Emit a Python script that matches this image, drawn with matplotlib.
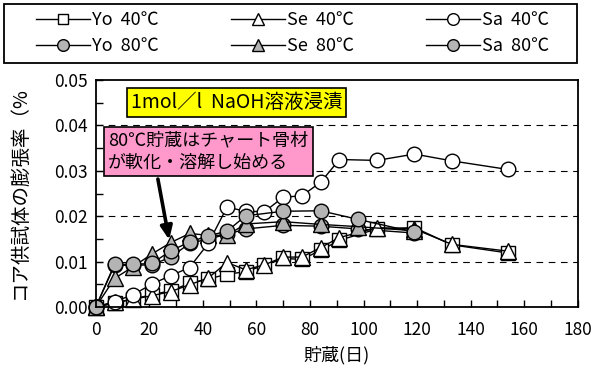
import matplotlib.pyplot as plt
from matplotlib.lines import Line2D
from matplotlib.patches import Rectangle

plt.rcParams['font.family'] = ['Noto Sans CJK JP', 'DejaVu Sans']

# 40℃ 貯蔵 (毎週測定)
days40 = [0, 7, 14, 21, 28, 35, 42, 49, 56, 63, 70, 77, 84, 91, 105, 119, 133, 154]
yo40 = [0, 0.0008, 0.0018, 0.0027, 0.0036, 0.0052, 0.0062, 0.0072, 0.0078, 0.0092,
        0.0107, 0.0105, 0.0125, 0.0147, 0.0172, 0.0175, 0.0137, 0.0119]
se40 = [0, 0.0010, 0.0017, 0.0025, 0.0034, 0.0049, 0.0064, 0.0098, 0.0082, 0.0093,
        0.0110, 0.0110, 0.0131, 0.0153, 0.0175, 0.0172, 0.0138, 0.0123]
sa40 = [0, 0.0012, 0.0027, 0.0051, 0.0069, 0.0087, 0.0140, 0.0220, 0.0211, 0.0210,
        0.0242, 0.0245, 0.0275, 0.0325, 0.0323, 0.0337, 0.0322, 0.0303]

# 80℃ 貯蔵
days80 = [0, 7, 14, 21, 28, 35, 42, 49, 56, 70, 84, 98, 119]
yo80 = [0, 0.0092, 0.0092, 0.0093, 0.0110, 0.0140, 0.0150, 0.0160, 0.0172, 0.0180,
        0.0178, 0.0172, 0.0163]
se80 = [0, 0.0063, 0.0089, 0.0117, 0.0142, 0.0162, 0.0158, 0.0158, 0.0183, 0.0188,
        0.0182, 0.0177, 0.0168]
sa80 = [0, 0.0094, 0.0094, 0.0096, 0.0124, 0.0143, 0.0157, 0.0167, 0.0201, 0.0211,
        0.0212, 0.0193, 0.0165]

gray = '#b4b4b4'

fig = plt.figure(figsize=(5.95, 3.76), dpi=100)
ax = fig.add_axes([0.161, 0.1835, 0.81, 0.6035])

kw = dict(color='black', linewidth=1.0, markeredgecolor='black', markeredgewidth=1.0)
series = [
    (days40, yo40, 's', 'white', 9.5, 'Yo  40℃'),
    (days80, yo80, 'o', gray, 10.5, 'Yo  80℃'),
    (days40, se40, '^', 'white', 11, 'Se  40℃'),
    (days80, se80, '^', gray, 11, 'Se  80℃'),
    (days40, sa40, 'o', 'white', 10.5, 'Sa  40℃'),
    (days80, sa80, 'o', gray, 10.5, 'Sa  80℃'),
]
handles = []
for x, y, m, fc, ms, lab in series:
    ax.plot(x, y, marker=m, markerfacecolor=fc, markersize=ms, clip_on=False, **kw)
    handles.append(Line2D([], [], marker=m, markerfacecolor=fc, markersize=ms * 0.8,
                          label=lab, **kw))

ax.set_xlim(0, 180)
ax.set_ylim(0, 0.05)
ax.set_xticks(range(0, 181, 20))
ax.set_xticks(range(0, 181, 10), minor=True)
ax.set_yticks([0, 0.01, 0.02, 0.03, 0.04, 0.05])
ax.set_yticks([i * 0.005 for i in range(11)], minor=True)
ax.set_yticklabels(['0.00', '0.01', '0.02', '0.03', '0.04', '0.05'])
ax.tick_params(which='both', direction='in', labelsize=12.5, length=5, width=1)
ax.tick_params(axis='x', pad=10)
ax.tick_params(axis='y', pad=6)
for s in ax.spines.values():
    s.set_linewidth(1.3)
for v in [0.01, 0.02, 0.03, 0.04]:
    ax.axhline(v, color='black', linestyle=(0, (6, 5)), linewidth=0.8, zorder=0)

ax.set_xlabel('貯蔵(日)', fontsize=13, labelpad=5)
fig.text(0.032, 0.487, 'コア供試体の膨張率（%', rotation=90, fontsize=14,
         ha='center', va='center')

ax.text(0.2925, 0.902, '1mol／l  NaOH溶液浸漬', transform=ax.transAxes, fontsize=14,
        ha='center', va='center',
        bbox=dict(boxstyle='square,pad=0.2', facecolor='#ffff00', edgecolor='black',
                  linewidth=1.2))
ax.text(0.026, 0.685, '80℃貯蔵はチャート骨材\nが軟化・溶解し始める', transform=ax.transAxes,
        fontsize=13, ha='left', va='center', linespacing=1.3,
        bbox=dict(boxstyle='square,pad=0.25', facecolor='#ff99cc', edgecolor='black',
                  linewidth=1.2))
ax.annotate('', xy=(27.6, 0.0142), xytext=(23.0, 0.0288),
            arrowprops=dict(arrowstyle='-|>,head_width=0.35,head_length=0.8',
                            color='black', linewidth=2.6))

# 凡例の枠
fig.patches.append(Rectangle((4 / 595, 1 - 63 / 376), 573 / 595, 59 / 376,
                             transform=fig.transFigure, facecolor='white',
                             edgecolor='black', linewidth=1.3))
fig.legend(handles=handles, ncol=3, loc='center', bbox_to_anchor=(0.492, 1 - 33 / 376),
           fontsize=13, frameon=False, handlelength=3.0, handletextpad=0.1,
           columnspacing=4.0, labelspacing=0.45)

fig.savefig('out.png', dpi=100)
